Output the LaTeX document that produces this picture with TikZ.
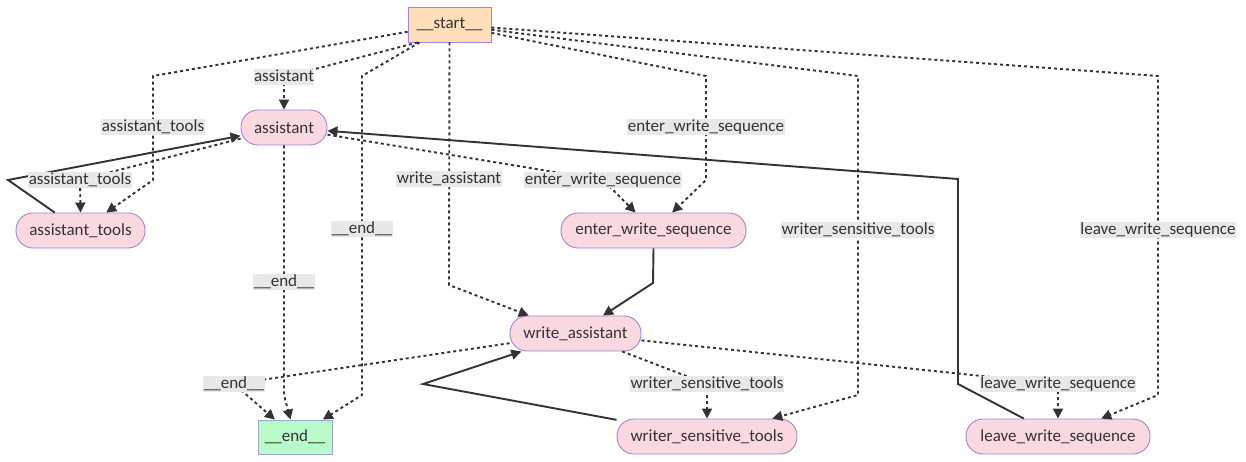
\documentclass[tikz,border=0pt]{standalone}
\usepackage{fontspec}
\setmainfont{Carlito}
\usetikzlibrary{arrows.meta}
\definecolor{ink}{HTML}{333333}
\definecolor{pinkfill}{HTML}{FAD8E0}
\definecolor{startfill}{HTML}{FFDFBA}
\definecolor{endfill}{HTML}{B8FBC8}
\definecolor{nodeborder}{HTML}{A283D4}
\definecolor{endborder}{HTML}{A0A6CC}
\definecolor{lblfill}{HTML}{E8E8E8}
\begin{document}
\begin{tikzpicture}[x=1pt,y=-1pt,
  every node/.style={font=\fontsize{17}{20}\selectfont, text=ink},
  pinknode/.style={rectangle, rounded corners=17pt, draw=nodeborder, line width=0.9pt, fill=pinkfill, minimum height=35pt, inner xsep=0pt},
  startnode/.style={rectangle, draw=nodeborder, line width=0.9pt, fill=startfill, minimum height=35pt, minimum width=83pt},
  endnode/.style={rectangle, draw=endborder, line width=0.9pt, fill=endfill, minimum height=34pt, minimum width=74pt},
  lbl/.style={fill=lblfill, inner xsep=0.5pt, inner ysep=0pt, text height=12pt, text depth=3.5pt},
  dotedge/.style={draw=ink, line width=1.9pt, dash pattern=on 3pt off 3pt, -{Triangle[length=10pt,width=10pt]}},
  soledge/.style={draw=ink, line width=1.9pt, -{Triangle[length=10pt,width=10pt]}}
]
\path[fill=white] (0,0) rectangle (1246,462);
\useasboundingbox (0,0) rectangle (1246,462);

% nodes
\node[startnode] (start) at (449.5,24.5) {\_\_start\_\_};
\node[pinknode, minimum width=86pt] (assistant) at (284,127.5) {assistant};
\node[pinknode, minimum width=129pt] (atools) at (80.5,230.5) {assistant\_tools};
\node[pinknode, minimum width=185pt] (enter) at (653.5,230.5) {enter\_write\_sequence};
\node[pinknode, minimum width=131pt] (wassist) at (575.5,333.5) {write\_assistant};
\node[endnode] (end) at (295,437) {\_\_end\_\_};
\node[pinknode, minimum width=180pt] (wst) at (707,436.5) {writer\_sensitive\_tools};
\node[pinknode, minimum width=184pt] (leave) at (1058,436.5) {leave\_write\_sequence};

% bend coordinates
\coordinate (a1) at (284,77);
\coordinate (b1) at (153,76); \coordinate (b2) at (153,180);
\coordinate (c1) at (362,76); \coordinate (c2) at (362,395);
\coordinate (d1) at (449,285);
\coordinate (e1) at (706,76); \coordinate (e2) at (706,180);
\coordinate (f1) at (858,76); \coordinate (f2) at (858,395);
\coordinate (g1) at (1158,76); \coordinate (g2) at (1158,395);
\coordinate (h1) at (80,180);
\coordinate (i1) at (8,180);
\coordinate (j1) at (284,395);
\coordinate (k1) at (603,180);
\coordinate (l1) at (653,283);
\coordinate (m1) at (234,384);
\coordinate (n1) at (707,384);
\coordinate (o1) at (1058,384);
\coordinate (p1) at (423,384);
\coordinate (q1) at (958,384); \coordinate (q2) at (958,179);

% edges from start
\draw[dotedge] ([xshift=10pt]start.south west) -- (a1) -- (assistant);
\draw[dotedge] (start) -- (b1) -- (b2) -- (atools);
\draw[dotedge] ([xshift=12pt]start.south west) -- (c1) -- (c2) -- (end);
\draw[dotedge] (start.south) -- (d1) -- (wassist);
\draw[dotedge] (start) -- (e1) -- (e2) -- (enter);
\draw[dotedge] (start) -- (f1) -- (f2) -- (wst);
\draw[dotedge] (start) -- (g1) -- (g2) -- (leave);
% other edges
\draw[dotedge] (assistant) -- (h1) -- (atools.north);
\draw[soledge] (atools) -- (i1) -- (assistant);
\draw[dotedge] (assistant.south) -- (j1) -- (end);
\draw[dotedge] (assistant) -- (k1) -- (enter);
\draw[soledge] (enter.south) -- (l1) -- (wassist);
\draw[dotedge] (wassist) -- (m1) -- (end);
\draw[dotedge] (wassist) -- (n1) -- (wst.north);
\draw[dotedge] (wassist) -- (o1) -- (leave.north);
\draw[soledge] (wst) -- (p1) -- (wassist);
\draw[soledge] (leave) -- (q1) -- (q2) -- (assistant);

% edge labels
\node[lbl] (la) at (a1) {assistant};
\node[lbl] (lb) at (153,127) {assistant\_tools};
\node[lbl] (lc) at (362,229) {\_\_end\_\_};
\node[lbl] (ld) at (449,179) {write\_assistant};
\node[lbl] (le) at (706,127) {enter\_write\_sequence};
\node[lbl] (lf) at (858,230) {writer\_sensitive\_tools};
\node[lbl] (lg) at (1158,230) {leave\_write\_sequence};
\node[lbl] (lh) at (h1) {assistant\_tools};
\node[lbl] (lj) at (284,282) {\_\_end\_\_};
\node[lbl] (lk) at (k1) {enter\_write\_sequence};
\node[lbl] (lm) at (m1) {\_\_end\_\_};
\node[lbl] (ln) at (n1) {writer\_sensitive\_tools};
\node[lbl] (lo) at (o1) {leave\_write\_sequence};
\end{tikzpicture}
\end{document}
